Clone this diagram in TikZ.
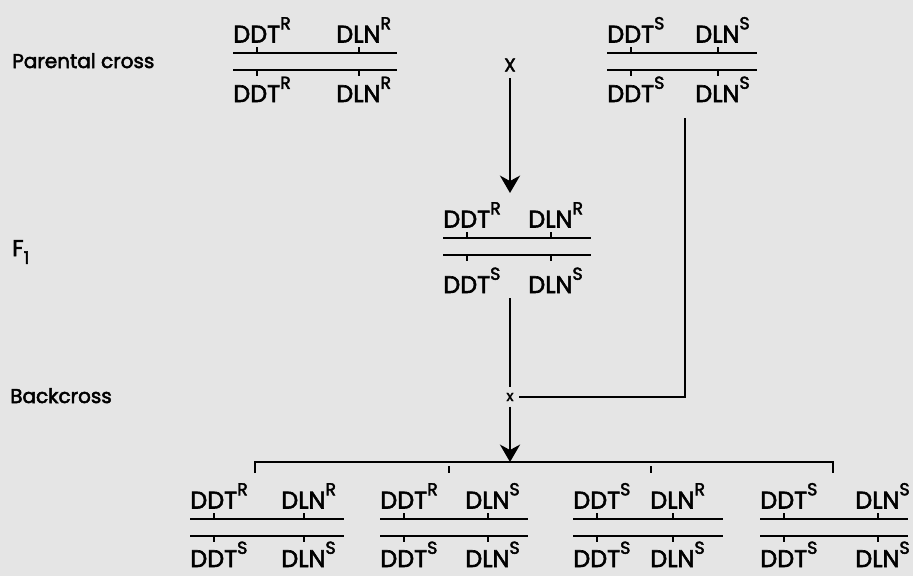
\documentclass[tikz,border=0pt]{standalone}
\usepackage{fontspec}
\setmainfont{Poppins}[FakeBold=2.5]
\usetikzlibrary{arrows.meta}

\newcommand\allele[2]{#1\raisebox{0.55em}{\fontsize{13}{13}\selectfont #2}}

\tikzset{
  gene/.style={anchor=base west, inner sep=0pt, font=\fontsize{18}{18}\selectfont},
  stage/.style={anchor=base west, inner sep=0pt, font=\fontsize{15}{15}\selectfont},
  chrom/.style={line width=1.6pt},
  locus/.style={line width=1.4pt},
  link/.style={line width=2.1pt},
  arr/.style={-{Stealth[length=13pt,width=15pt,inset=4pt]}}
}

\begin{document}
\begin{tikzpicture}[x=0.75pt,y=-0.75pt]
\fill[black!10] (0,0) rectangle (913,576);
\useasboundingbox (0,0) rectangle (913,576);

% stages
\node[stage] (parental) at (12,68) {Parental cross};
\node[stage] (fone) at (12,256) {\fontsize{17}{17}\selectfont F\raisebox{-0.35em}{\fontsize{13}{13}\selectfont 1}};
\node[stage] (backcross) at (10,403) {Backcross};

% chromosome pairs: name/x/y/length/DLN offset/gap/alleles
\foreach \n/\x/\y/\l/\o/\g/\p/\q/\r/\s in {
  pl/233/53/164/103/32/R/R/R/R,
  pr/607/53/150/88/32/S/S/S/S,
  fa/443/238/148/85/38/R/R/S/S,
  ba/190/519/154/91/31/R/R/S/S,
  bb/380/519/148/85/31/R/S/S/S,
  bc/573/519/150/77/31/S/R/S/S,
  bd/760/519/148/95/31/S/S/S/S}{
  \node[gene] (\n-a) at (\x,\y-10.5) {\allele{DDT}{\p}};
  \node[gene] (\n-b) at (\x+\o,\y-10.5) {\allele{DLN}{\q}};
  \node[gene] (\n-c) at (\x,\y+17+\g) {\allele{DDT}{\r}};
  \node[gene] (\n-d) at (\x+\o,\y+17+\g) {\allele{DLN}{\s}};
  \draw[chrom] (\x,\y) -- ++(\l,0);
  \draw[chrom] (\x,\y+17) -- ++(\l,0);
  \foreach \t in {24,\o+23}
    \draw[locus] (\x+\t,\y) -- ++(0,-6) (\x+\t,\y+17) -- ++(0,6);
}

% crosses
\node[inner sep=5pt, font=\fontsize{14}{14}\selectfont] (cross) at (510,65) {X};
\node[inner sep=4pt, font=\fontsize{11}{11}\selectfont] (bx) at (510,397) {x};
\coordinate (f1in) at (510,193);
\coordinate (f1out) at (510,298);
\coordinate (prout) at (685,118);
\coordinate (split) at (510,462);
\coordinate (b1in) at (255,473);
\coordinate (b4in) at (833,473);

\draw[link,arr] (cross) -- (f1in);
\draw[link] (f1out) -- (bx);
\draw[link] (prout) |- (bx);
\draw[link,arr] (bx) -- (split);
\draw[link] (b1in) |- (split) -| (b4in);
\foreach \t in {449,651}
  \draw[link] (\t,466) -- ++(0,7);
\end{tikzpicture}
\end{document}
